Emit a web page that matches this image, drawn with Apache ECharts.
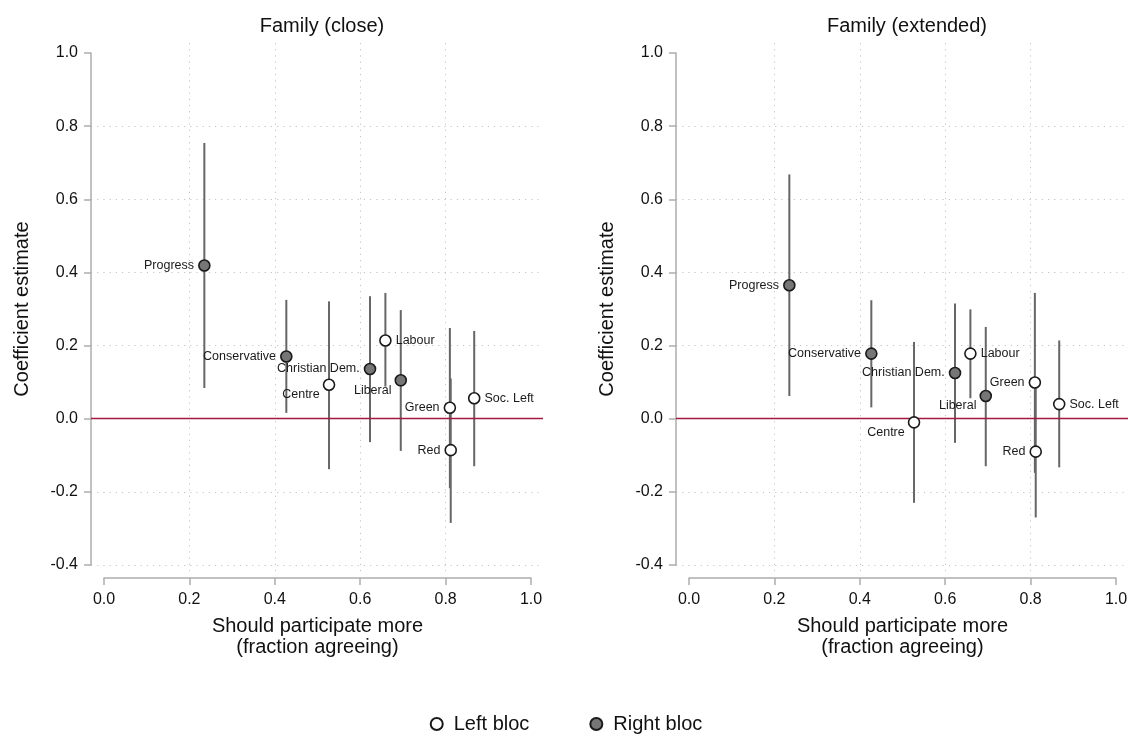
<!DOCTYPE html>
<html>
<head>
<meta charset="utf-8">
<script src="https://cdn.jsdelivr.net/npm/echarts@6/dist/echarts.min.js"></script>
<style>
html,body{margin:0;padding:0;background:#fff;}
#chart{width:1132px;height:738px;}
</style>
</head>
<body>
<div id="chart"></div>
<script>
// ---- Data ----
const parties = ['Progress','Conservative','Centre','Christian Dem.','Labour','Liberal','Green','Red','Soc. Left'];
const bloc    = ['Right','Right','Left','Right','Left','Right','Left','Left','Left'];
const share   = [0.235, 0.427, 0.527, 0.623, 0.659, 0.695, 0.810, 0.812, 0.867];

const estClose = [0.419, 0.170, 0.093, 0.136, 0.214, 0.105, 0.030, -0.086, 0.056];
const loClose  = [0.084, 0.016, -0.138, -0.064, 0.088, -0.088, -0.190, -0.285, -0.130];
const hiClose  = [0.754, 0.325, 0.321, 0.335, 0.344, 0.297, 0.248, 0.110, 0.240];

const estExt = [0.365, 0.178, -0.010, 0.125, 0.178, 0.062, 0.099, -0.090, 0.040];
const loExt  = [0.062, 0.031, -0.230, -0.066, 0.056, -0.130, -0.148, -0.270, -0.133];
const hiExt  = [0.668, 0.324, 0.210, 0.315, 0.299, 0.251, 0.344, 0.090, 0.214];

const panelTitles = ['Family (close)', 'Family (extended)'];
const xTicks = [0, 0.2, 0.4, 0.6, 0.8, 1.0];
const yTicks = [-0.4, -0.2, 0, 0.2, 0.4, 0.6, 0.8, 1.0];
const xGridVals = [0.2, 0.4, 0.6, 0.8];
const yGridVals = [-0.4, -0.2, 0.2, 0.4, 0.6, 0.8];
const blocNames = {Left: 'Left bloc', Right: 'Right bloc'};

// ---- Label placement (style) ----
const labelRight = {'Labour': true, 'Soc. Left': true};
const labelLowLeft = {'Centre': true, 'Liberal': true};

// ---- Layout ----
const FONT = 'Liberation Sans, Arial, Helvetica, sans-serif';
const panels = [
  {dataLeft: 104, bgLeft: 91, center: 317},
  {dataLeft: 689, bgLeft: 676, center: 902}
];
const dataW = 427, dataTop = 53, dataH = 512;
const bgW = 452, bgTop = 43, bgH = 532;
const pxPerX = dataW / 1.0, pxPerY = dataH / 1.4;

const grids = [], xAxes = [], yAxes = [], series = [], titles = [];
const panelData = [
  {est: estClose, lo: loClose, hi: hiClose},
  {est: estExt, lo: loExt, hi: hiExt}
];

panels.forEach((p, i) => {
  const gData = i * 2, gBg = i * 2 + 1;
  grids.push({left: p.dataLeft, top: dataTop, width: dataW, height: dataH});
  grids.push({left: p.bgLeft, top: bgTop, width: bgW, height: bgH});

  // visible data axes
  xAxes.push({
    gridIndex: gData, type: 'value', min: 0, max: 1, interval: 0.2, offset: 13,
    axisLine: {show: true, onZero: false, lineStyle: {color: '#adadad', width: 1.5}},
    axisTick: {show: true, length: 7, lineStyle: {color: '#adadad', width: 1.5}},
    axisLabel: {show: true, margin: 14, fontSize: 16, color: '#111', fontFamily: FONT,
      formatter: v => v.toFixed(1)},
    splitLine: {show: false},
    name: 'Should participate more\n(fraction agreeing)', nameLocation: 'middle', nameGap: 38,
    nameTextStyle: {fontSize: 20, color: '#111', fontFamily: FONT, lineHeight: 21}
  });
  yAxes.push({
    gridIndex: gData, type: 'value', min: -0.4, max: 1.0, interval: 0.2, offset: 13,
    axisLine: {show: true, onZero: false, lineStyle: {color: '#adadad', width: 1.5}},
    axisTick: {show: true, length: 7, lineStyle: {color: '#adadad', width: 1.5}},
    axisLabel: {show: true, margin: 13, fontSize: 16, color: '#111', fontFamily: FONT,
      formatter: v => v.toFixed(1)},
    splitLine: {show: false},
    name: 'Coefficient estimate', nameLocation: 'middle', nameGap: 59, nameRotate: 90,
    nameTextStyle: {fontSize: 20, color: '#111', fontFamily: FONT}
  });
  // background axes (grid lines across the plot region)
  const xMin = (p.bgLeft - p.dataLeft) / pxPerX;
  const xMax = (p.bgLeft + bgW - p.dataLeft) / pxPerX;
  const yMin = -0.4 - (bgTop + bgH - dataTop - dataH) / pxPerY;
  const yMax = 1.0 + (dataTop - bgTop) / pxPerY;
  xAxes.push({
    gridIndex: gBg, type: 'value', min: xMin, max: xMax,
    axisLine: {show: false}, axisLabel: {show: false},
    axisTick: {show: false, customValues: xGridVals},
    splitLine: {show: true, lineStyle: {color: '#c4c4c4', width: 1, type: [1.2, 5]}}
  });
  yAxes.push({
    gridIndex: gBg, type: 'value', min: yMin, max: yMax,
    axisLine: {show: false}, axisLabel: {show: false},
    axisTick: {show: false, customValues: yGridVals},
    splitLine: {show: true, lineStyle: {color: '#c4c4c4', width: 1, type: [1.2, 5]}}
  });

  // zero reference line
  series.push({
    type: 'line', xAxisIndex: gBg, yAxisIndex: gBg, data: [], silent: true, z: 3,
    markLine: {silent: true, symbol: 'none', label: {show: false},
      lineStyle: {color: '#a3193f', width: 1.3, type: 'solid'},
      data: [{yAxis: 0}]}
  });

  const d = panelData[i];
  // confidence intervals
  series.push({
    type: 'custom', xAxisIndex: gData, yAxisIndex: gData, z: 4, silent: true,
    data: parties.map((n, k) => [share[k], d.lo[k], d.hi[k]]),
    encode: {x: 0, y: [1, 2]},
    renderItem: (params, api) => {
      const a = api.coord([api.value(0), api.value(1)]);
      const b = api.coord([api.value(0), api.value(2)]);
      return {type: 'line', shape: {x1: a[0], y1: a[1], x2: b[0], y2: b[1]},
        style: {stroke: '#666666', lineWidth: 2}};
    }
  });
  // points by bloc
  ['Left', 'Right'].forEach(b => {
    const pts = [];
    parties.forEach((n, k) => {
      if (bloc[k] !== b) return;
      let label;
      if (labelRight[n]) label = {position: 'right', distance: 4};
      else if (labelLowLeft[n]) label = {position: 'left', distance: 3, offset: [0, 10]};
      else label = {position: 'left', distance: 4};
      pts.push({name: n, value: [share[k], d.est[k]], label: label});
    });
    series.push({
      name: blocNames[b], type: 'scatter', xAxisIndex: gData, yAxisIndex: gData, z: 5,
      symbol: 'circle', symbolSize: 11,
      itemStyle: {color: b === 'Left' ? '#ffffff' : '#767676', borderColor: '#1a1a1a', borderWidth: 1.6, opacity: 1},
      label: {show: true, formatter: '{b}', fontSize: 12.5, color: '#1a1a1a', fontFamily: FONT},
      data: pts
    });
  });

  titles.push({text: panelTitles[i], left: p.center, top: 11, textAlign: 'center',
    textStyle: {fontSize: 20, fontWeight: 'normal', color: '#111', fontFamily: FONT}});
});

const chart = echarts.init(document.getElementById('chart'), null, {renderer: 'canvas'});
chart.setOption({
  animation: false,
  backgroundColor: '#ffffff',
  title: titles,
  legend: {
    data: ['Left bloc', 'Right bloc'], left: 'center', top: 709, icon: 'circle',
    itemWidth: 12, itemHeight: 12, itemGap: 60,
    textStyle: {fontSize: 20, color: '#111', fontFamily: FONT, padding: [0, 0, 0, 6]}
  },
  grid: grids, xAxis: xAxes, yAxis: yAxes, series: series
});
</script>
</body>
</html>
